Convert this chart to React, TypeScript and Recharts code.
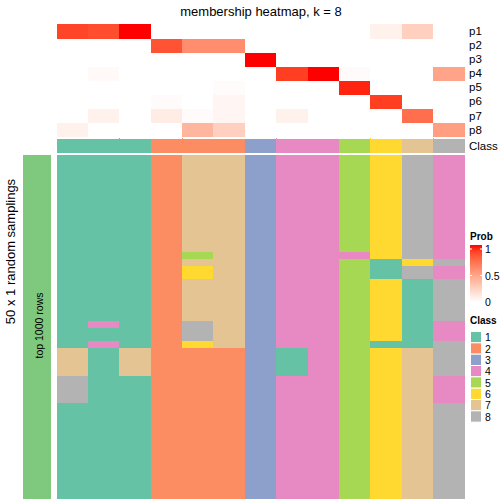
import React from 'react';
import { BarChart, Bar, XAxis, YAxis, Cell } from 'recharts';

// ---------- data ----------
const COLUMNS = ['c1', 'c2', 'c3', 'c4', 'c5', 'c6', 'c7', 'c8', 'c9', 'c10', 'c11', 'c12', 'c13'];
const COLUMN_CLASS = [1, 1, 1, 2, 2, 2, 3, 4, 4, 5, 6, 7, 8];

const PROB_ROWS = ['p1', 'p2', 'p3', 'p4', 'p5', 'p6', 'p7', 'p8'];
const P1 = [0.88, 0.85, 1, 0, 0, 0, 0, 0, 0, 0, 0.07, 0.25, 0];
const P2 = [0, 0, 0, 0.83, 0.58, 0.58, 0, 0, 0, 0, 0, 0, 0];
const P3 = [0, 0, 0, 0, 0, 0, 1, 0, 0, 0, 0, 0, 0];
const P4 = [0, 0.03, 0, 0, 0, 0, 0, 0.9, 1, 0.02, 0, 0, 0.47];
const P5 = [0, 0, 0, 0, 0, 0.02, 0, 0, 0, 0.96, 0, 0, 0];
const P6 = [0, 0, 0, 0.02, 0, 0.05, 0, 0, 0, 0, 0.9, 0, 0];
const P7 = [0, 0.07, 0, 0.1, 0.02, 0.05, 0, 0.07, 0, 0, 0, 0.72, 0];
const P8 = [0.07, 0, 0, 0, 0.38, 0.25, 0, 0, 0, 0, 0, 0, 0.5];
const PROBS = [P1, P2, P3, P4, P5, P6, P7, P8];

// class of each of the 50 random samplings (rows, top to bottom) per column
const S1 = '1111111111 1111111111 1111111177 7788881111 1111111111';
const S2 = '1111111111 1111111111 1111411411 1111111111 1111111111';
const S3 = '1111111111 1111111111 1111111177 7711111111 1111111111';
const S4 = '2222222222 2222222222 2222222222 2222222222 2222222222';
const S5 = '7777777777 7777576677 7777888622 2222222222 2222222222';
const S6 = '7777777777 7777777777 7777777722 2222222222 2222222222';
const S7 = '3333333333 3333333333 3333333333 3333333333 3333333333';
const S8 = '4444444444 4444444444 4444444411 1144444444 4444444444';
const S9 = '4444444444 4444444444 4444444444 4444444444 4444444444';
const S10 = '5555555555 5555455555 5555555555 5555555555 5555555555';
const S11 = '6666666666 6666611166 6666666166 6666666666 6666666666';
const S12 = '8888888888 8888868811 1111111177 7777777777 7777777777';
const S13 = '4444444444 4444484488 8888444888 8844448888 8888888888';
const SAMPLINGS = [S1, S2, S3, S4, S5, S6, S7, S8, S9, S10, S11, S12, S13].map((s) =>
  s.replace(/ /g, '').split('').map(Number)
);
const N_SAMPLINGS = 50;

const CLASS_LABELS = ['1', '2', '3', '4', '5', '6', '7', '8'];
const CLASS_COLORS: Record<number, string> = {
  1: '#66C2A5',
  2: '#FC8D62',
  3: '#8DA0CB',
  4: '#E78AC3',
  5: '#A6D854',
  6: '#FFD92F',
  7: '#E5C494',
  8: '#B3B3B3',
};
const PROB_TICKS = [1, 0.5, 0];

// ---------- colour helpers (white -> red in LAB) ----------
const toLin = (c: number) => {
  const v = c / 255;
  return v <= 0.04045 ? v / 12.92 : Math.pow((v + 0.055) / 1.055, 2.4);
};
const toS = (v: number) => {
  const x = Math.min(1, Math.max(0, v));
  const s = x <= 0.0031308 ? 12.92 * x : 1.055 * Math.pow(x, 1 / 2.4) - 0.055;
  return Math.round(s * 255);
};
const Xn = 0.95047, Yn = 1.0, Zn = 1.08883;
const f = (t: number) => (t > 0.008856 ? Math.cbrt(t) : 7.787 * t + 16 / 116);
const fi = (t: number) => (t > 0.206893 ? t * t * t : (t - 16 / 116) / 7.787);
function rgb2lab(r: number, g: number, b: number) {
  const R = toLin(r), G = toLin(g), B = toLin(b);
  const X = (0.4124 * R + 0.3576 * G + 0.1805 * B) / Xn;
  const Y = (0.2126 * R + 0.7152 * G + 0.0722 * B) / Yn;
  const Z = (0.0193 * R + 0.1192 * G + 0.9505 * B) / Zn;
  const fx = f(X), fy = f(Y), fz = f(Z);
  return [116 * fy - 16, 500 * (fx - fy), 200 * (fy - fz)];
}
function lab2rgb(L: number, a: number, b: number) {
  const fy = (L + 16) / 116;
  const fx = fy + a / 500;
  const fz = fy - b / 200;
  const X = fi(fx) * Xn, Y = fi(fy) * Yn, Z = fi(fz) * Zn;
  const R = 3.2406 * X - 1.5372 * Y - 0.4986 * Z;
  const G = -0.9689 * X + 1.8758 * Y + 0.0415 * Z;
  const B = 0.0557 * X - 0.204 * Y + 1.057 * Z;
  return `rgb(${toS(R)},${toS(G)},${toS(B)})`;
}
const LAB_W = rgb2lab(255, 255, 255);
const LAB_R = rgb2lab(255, 0, 0);
const probColor = (t: number) =>
  lab2rgb(
    LAB_W[0] + (LAB_R[0] - LAB_W[0]) * t,
    LAB_W[1] + (LAB_R[1] - LAB_W[1]) * t,
    LAB_W[2] + (LAB_R[2] - LAB_W[2]) * t
  );

// ---------- chart tables ----------
const GAP = 0.17;
const topData = COLUMNS.map((c) => {
  const o: any = { col: c, cls: 1, gap: GAP };
  PROB_ROWS.forEach((p) => (o[p] = 1));
  return o;
});
const TOP_TICKS = [0.5, ...PROB_ROWS.map((_, i) => 1 + GAP + (PROB_ROWS.length - 1 - i) + 0.5)];
const TOP_LABEL = (v: number) => {
  if (Math.abs(v - 0.5) < 1e-6) return 'Class';
  const idx = PROB_ROWS.length - 1 - Math.round(v - 1 - GAP - 0.5);
  return PROB_ROWS[idx];
};

const ROW_KEYS = Array.from({ length: N_SAMPLINGS }, (_, r) => `r${r}`);
const bottomData = COLUMNS.map((c) => {
  const o: any = { col: c };
  ROW_KEYS.forEach((k) => (o[k] = 1));
  return o;
});
const sideData = [{ name: 'top 1000 rows', v: 1 }];

const FONT = '"Liberation Sans", Arial, Helvetica, sans-serif';

export default function App() {
  const gradStops = Array.from({ length: 11 }, (_, i) => i / 10);
  return (
    <div style={{ position: 'absolute', left: 0, top: 0, width: 504, height: 504, background: '#fff', fontFamily: FONT }}>
      <style>{`.recharts-rectangle{shape-rendering:crispEdges}`}</style>

      {/* membership heatmap */}
      <div style={{ position: 'absolute', left: 57, top: 24 }}>
        <BarChart
          width={408 + 40}
          height={129}
          data={topData}
          margin={{ top: 0, right: 0, bottom: 0, left: 0 }}
          barCategoryGap={0}
          barGap={0}
        >
          <XAxis dataKey="col" hide />
          <YAxis
            orientation="right"
            type="number"
            domain={[0, 8 + 1 + GAP]}
            allowDataOverflow
            ticks={TOP_TICKS}
            interval={0}
            tickFormatter={TOP_LABEL}
            axisLine={false}
            tickLine={false}
            tickSize={0}
            tickMargin={4}
            width={40}
            tick={{ fill: '#000', fontSize: 11.5, fontFamily: FONT, textAnchor: 'start' }}
          />
          <Bar dataKey="cls" stackId="a" isAnimationActive={false}>
            {COLUMNS.map((c, i) => (
              <Cell
                key={c}
                fill={CLASS_COLORS[COLUMN_CLASS[i]]}
                stroke={CLASS_COLORS[COLUMN_CLASS[i]]}
                strokeWidth={1}
              />
            ))}
          </Bar>
          <Bar dataKey="gap" stackId="a" isAnimationActive={false} fill="#ffffff" />
          {[...PROB_ROWS].reverse().map((p) => {
            const vals = PROBS[PROB_ROWS.indexOf(p)];
            return (
              <Bar key={p} dataKey={p} stackId="a" isAnimationActive={false}>
                {COLUMNS.map((c, i) => (
                  <Cell key={c} fill={probColor(vals[i])} stroke={probColor(vals[i])} strokeWidth={1} />
                ))}
              </Bar>
            );
          })}
        </BarChart>
      </div>

      {/* random samplings heatmap */}
      <div style={{ position: 'absolute', left: 57, top: 155 }}>
        <BarChart
          width={408}
          height={344}
          data={bottomData}
          margin={{ top: 0, right: 0, bottom: 0, left: 0 }}
          barCategoryGap={0}
          barGap={0}
        >
          <XAxis dataKey="col" hide />
          <YAxis hide type="number" domain={[0, N_SAMPLINGS]} allowDataOverflow />
          {[...ROW_KEYS].reverse().map((k) => {
            const r = Number(k.slice(1));
            return (
              <Bar key={k} dataKey={k} stackId="s" isAnimationActive={false}>
                {COLUMNS.map((c, i) => {
                  const col = CLASS_COLORS[SAMPLINGS[i][r]];
                  return <Cell key={c} fill={col} stroke={col} strokeWidth={1} />;
                })}
              </Bar>
            );
          })}
        </BarChart>
      </div>

      {/* row annotation bar */}
      <div style={{ position: 'absolute', left: 23, top: 155 }}>
        <BarChart
          width={28}
          height={344}
          data={sideData}
          margin={{ top: 0, right: 0, bottom: 0, left: 0 }}
          barCategoryGap={0}
        >
          <XAxis dataKey="name" hide />
          <YAxis hide type="number" domain={[0, 1]} />
          <Bar dataKey="v" fill="#7FC97F" isAnimationActive={false} />
        </BarChart>
      </div>

      {/* texts and legends */}
      <svg width={504} height={504} style={{ position: 'absolute', left: 0, top: 0, pointerEvents: 'none' }} fontFamily={FONT}>
        <defs>
          <linearGradient id="probGrad" x1="0" y1="1" x2="0" y2="0">
            {gradStops.map((t) => (
              <stop key={t} offset={`${t * 100}%`} stopColor={probColor(t)} />
            ))}
          </linearGradient>
        </defs>
        <text x={261} y={15.5} textAnchor="middle" fontSize={13} fill="#000">
          membership heatmap, k = 8
        </text>
        <text
          transform="translate(10,251.5) rotate(-90)"
          textAnchor="middle"
          dominantBaseline="central"
          fontSize={13}
          fill="#000"
        >
          50 x 1 random samplings
        </text>
        <text
          transform="translate(38.5,325.5) rotate(-90)"
          textAnchor="middle"
          dominantBaseline="central"
          fontSize={10.5}
          fill="#000"
        >
          top 1000 rows
        </text>

        {/* Prob legend */}
        <text x={470} y={240} fontSize={10} fontWeight="bold" fill="#000">
          Prob
        </text>
        <rect x={470} y={245} width={12} height={57} fill="url(#probGrad)" />
        {PROB_TICKS.map((t) => {
          const y = 302 - t * 53;
          return (
            <g key={t}>
              {t > 0 && (
                <>
                  <line x1={470} x2={472} y1={y} y2={y} stroke="#fff" strokeWidth={1} />
                  <line x1={480} x2={482} y1={y} y2={y} stroke="#fff" strokeWidth={1} />
                </>
              )}
              <text x={485} y={y} fontSize={10.5} dominantBaseline="central" fill="#000">
                {String(t)}
              </text>
            </g>
          );
        })}

        {/* Class legend */}
        <text x={470} y={324} fontSize={10} fontWeight="bold" fill="#000">
          Class
        </text>
        {CLASS_LABELS.map((lab, i) => {
          const y = 331.5 + i * 11.33;
          return (
            <g key={lab}>
              <rect x={470.5} y={y} width={11} height={11.33} fill={CLASS_COLORS[i + 1]} stroke="#fff" strokeWidth={1} />
              <text x={485} y={y + 5.8} fontSize={10.5} dominantBaseline="central" fill="#000">
                {lab}
              </text>
            </g>
          );
        })}
      </svg>
    </div>
  );
}
